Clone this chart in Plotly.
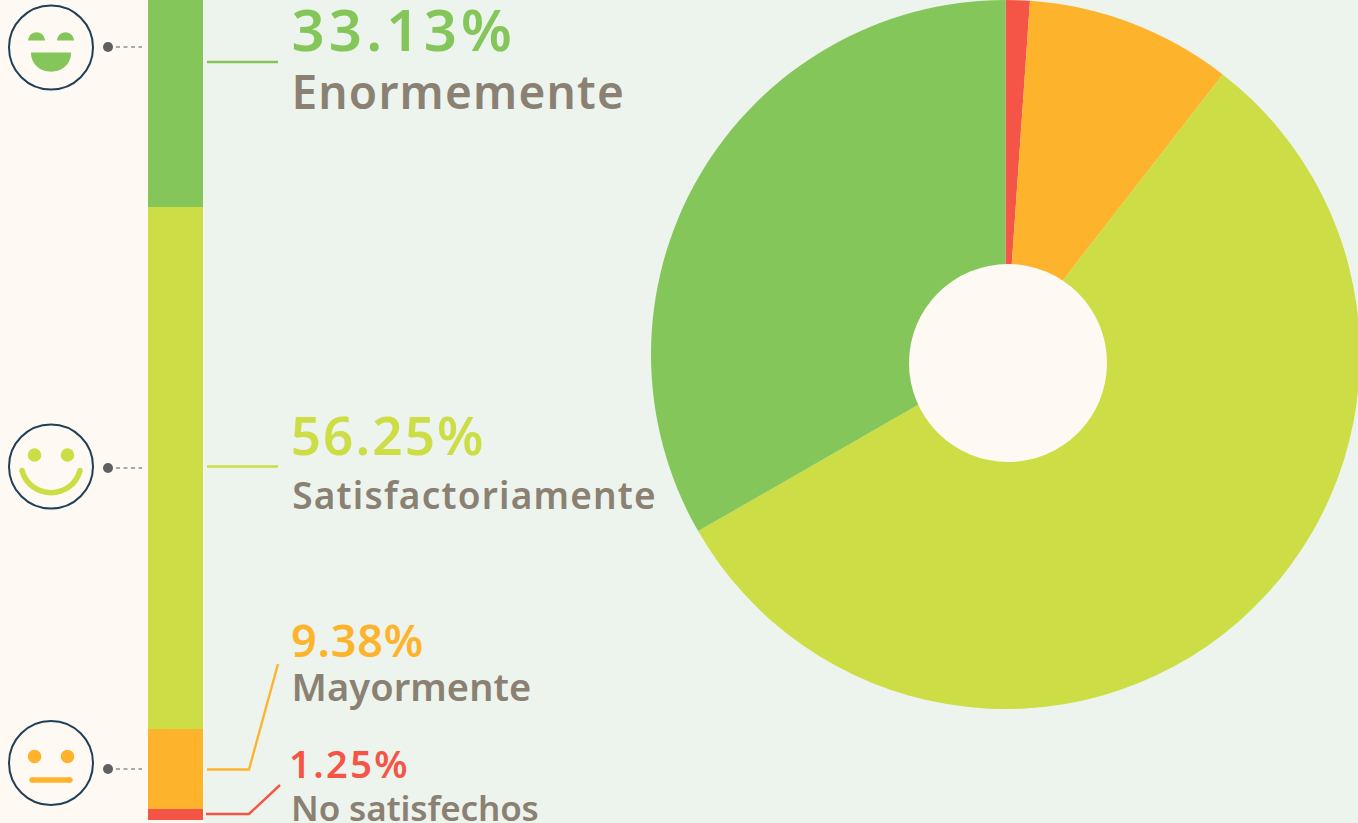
import json
import plotly.graph_objects as go

categories = ["No satisfechos", "Mayormente", "Satisfactoriamente", "Enormemente"]
percent_labels = ["1.25%", "9.38%", "56.25%", "33.13%"]
pie_values = [1.1, 9.4, 56.2, 33.3]
# Stacked column segment heights as drawn in the picture (not proportional to the percentages)
bar_heights = [11, 80, 522, 207]
colors = ["#F55546", "#FDB42C", "#CDDD45", "#85C65A"]

CREAM = "#FFF9F3"
PANEL = "#EDF4ED"
GREY = "#8A8173"
NAVY = "#1F4058"
W, H = 1360, 823
BOTTOM = 820


def Y(v):
    return BOTTOM - v


fig = go.Figure()
for c, h, col in zip(categories, bar_heights, colors):
    fig.add_trace(go.Bar(x=[175.5], y=[h], width=[55], name=c, marker=dict(color=col, line=dict(width=0)),
                         hoverinfo="skip", showlegend=False))

fig.add_trace(go.Pie(labels=categories, values=pie_values, sort=False, direction="clockwise", rotation=0,
                     marker=dict(colors=colors, line=dict(width=0)), textinfo="none", hoverinfo="skip",
                     showlegend=False, automargin=False,
                     domain=dict(x=[651 / W, 1], y=[(H - 709) / H, 1])))

shapes = [dict(type="rect", layer="below", x0=204, x1=W, y0=Y(823), y1=Y(0), fillcolor=PANEL, line=dict(width=0))]


def circle(cx, cy, r, fill="rgba(0,0,0,0)", line=None, lw=0):
    shapes.append(dict(type="circle", x0=cx - r, x1=cx + r, y0=Y(cy - r), y1=Y(cy + r), fillcolor=fill,
                       line=dict(color=line or fill, width=lw), layer="above"))


def poly(pts, col, lw, dash="solid"):
    d = "M " + " L ".join(f"{x},{Y(y)}" for x, y in pts)
    shapes.append(dict(type="path", path=d, line=dict(color=col, width=lw, dash=dash), layer="above"))


def filled(d, col):
    shapes.append(dict(type="path", path=d, fillcolor=col, line=dict(width=0), layer="above"))


# doughnut hole
circle(1008, 363, 99, fill=CREAM)

# faces
for cy in (47.5, 466.5, 763):
    circle(51, cy, 42, line=NAVY, lw=2)

# happy face
G, Yg, O, R = colors[3], colors[2], colors[1], colors[0]
for x0 in (28, 57):
    filled(f"M {x0},{Y(40.5)} C {x0 + 1},{Y(29.5)} {x0 + 16},{Y(29.5)} {x0 + 17},{Y(40.5)} Z", G)
filled(f"M 31,{Y(52.5)} L 71,{Y(52.5)} C 71,{Y(78)} 31,{Y(78)} 31,{Y(52.5)} Z", G)

# smile face
circle(34.5, 455, 6.8, fill=Yg)
circle(67.5, 455, 6.8, fill=Yg)
shapes.append(dict(type="path", path=f"M 22,{Y(470.5)} C 30,{Y(500)} 72,{Y(500)} 80,{Y(470.5)}",
                   line=dict(color=Yg, width=5.5), layer="above"))
circle(22, 470.5, 2.7, fill=Yg)
circle(80, 470.5, 2.7, fill=Yg)

# neutral face
circle(34.5, 756.5, 6.8, fill=O)
circle(67.5, 756.5, 6.8, fill=O)
poly([(32, 780), (70, 780)], O, 5.5)
circle(32, 780, 2.7, fill=O)
circle(70, 780, 2.7, fill=O)

# dots + dashes
for y in (47, 468, 769):
    circle(108, y, 5, fill="#5F6062")
    poly([(116, y), (142, y)], "#8F8F8F", 1.6, dash="4px,3.5px")

# connectors
poly([(207, 62), (278, 62)], G, 2.4)
poly([(207, 466.5), (278, 466.5)], Yg, 2.4)
poly([(207, 769.5), (249, 769.5), (278, 664)], O, 2.4)
poly([(206, 814), (249, 814), (280, 785)], R, 2.4)

annotations = []
spacings = []


def label(text, left, y, size, col, spacing, weight=600):
    # plotly centres each annotation's text, so added letter spacing grows both ways
    annotations.append(dict(text=text, x=left + len(text) * spacing / 2, y=Y(y), xref="x", yref="y",
                            xanchor="left", yanchor="middle", showarrow=False,
                            font=dict(family="Noto Sans", size=size, color=col, weight=weight)))
    spacings.append(spacing)


label(percent_labels[3], 289.5, 28, 58, G, 4.2)
label(categories[3], 289, 91, 46, GREY, 1.2)
label(percent_labels[2], 289, 434, 53, Yg, 2.1)
label(categories[2], 289.7, 494, 37, GREY, 1.2)
label(percent_labels[1], 289, 639, 45, O, 0.8)
label(categories[1], 289, 686, 38, GREY, 0.1)
label(percent_labels[0], 287, 763, 38, R, 2.4)
label(categories[0], 289.1, 807, 35, GREY, -0.15)

fig.update_layout(
    barmode="stack", width=W, height=H, margin=dict(l=0, r=0, t=0, b=0), autosize=False,
    paper_bgcolor=CREAM, plot_bgcolor="rgba(0,0,0,0)", template=None, bargap=0,
    xaxis=dict(range=[0, W], visible=False, fixedrange=True),
    yaxis=dict(range=[-3, BOTTOM], visible=False, fixedrange=True),
    shapes=shapes, annotations=annotations,
)
js = ("document.documentElement.style.overflow='hidden';document.body.style.margin='0';"
      "document.body.style.overflow='hidden';"
      f"var sp={json.dumps(spacings)};"
      "document.querySelectorAll('.annotation-text').forEach(function(t,i){t.style.letterSpacing=sp[i]+'px';});")
fig.write_html("out.html", config=dict(displayModeBar=False, staticPlot=True), post_script=js)
